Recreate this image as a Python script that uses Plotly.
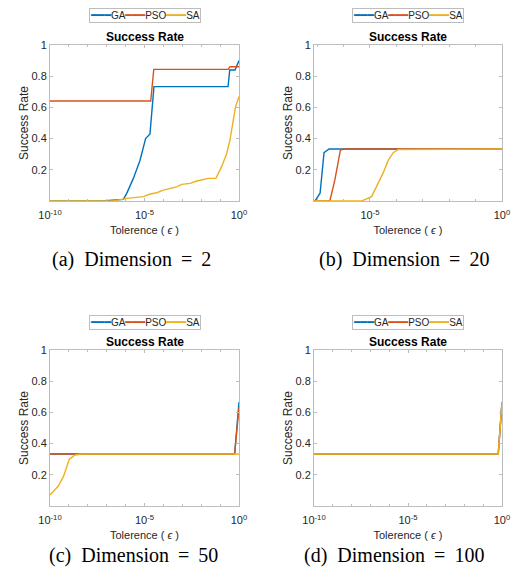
import numpy as np
import plotly.graph_objects as go

# ---------------- data (tolerance exponents log10(eps), success rate) ----------------
methods = ["GA", "PSO", "SA"]
colors = {"GA": "#0072BD", "PSO": "#D95319", "SA": "#EDB120"}
captions = ["(a)", "(b)", "(c)", "(d)"]
dimensions = ["2", "20", "50", "100"]
x_tick_exps = [-10, -5, 0]
x_tick_labels = ["10<sup>-10</sup>", "10<sup>-5</sup>", "10<sup>0</sup>"]
y_tick_vals = [0.2, 0.4, 0.6, 0.8, 1.0]
y_tick_labels = ["0.2", "0.4", "0.6", "0.8", "1"]

# (a) Dimension = 2
a_ga_exp = [-10, -7.27, -6.12, -5.94, -5.59, -5.24, -4.94, -4.71, -4.50, -0.58, -0.49, -0.21, 0]
a_ga_val = [0, 0, 0.01, 0.049, 0.145, 0.26, 0.40, 0.43, 0.733, 0.733, 0.84, 0.84, 0.90]
a_pso_exp = [-10, -4.67, -4.51, -0.57, -0.48, 0]
a_pso_val = [0.641, 0.641, 0.844, 0.844, 0.861, 0.861]
a_sa_exp = [-10, -6.66, -5.94, -5.59, -5.06, -4.70, -4.35, -4.0, -3.65, -3.3, -3.03, -2.59,
            -2.24, -1.89, -1.62, -1.22, -0.92, -0.65, -0.48, -0.30, -0.19, 0]
a_sa_val = [0, 0, 0.017, 0.023, 0.028, 0.045, 0.053, 0.07, 0.08, 0.09, 0.107, 0.113,
            0.128, 0.139, 0.145, 0.145, 0.22, 0.305, 0.39, 0.52, 0.60, 0.67]

# (b) Dimension = 20
b_ga_exp = [-7.12, -7.08, -6.89, -6.74, -6.55, 0]
b_ga_val = [0, 0, 0.05, 0.31, 0.333, 0.333]
b_pso_exp = [-7.12, -6.52, -6.33, -6.20, -6.12, -5.96, 0]
b_pso_val = [0, 0, 0.135, 0.26, 0.327, 0.333, 0.333]
b_sa_exp = [-7.12, -5.31, -4.94, -4.75, -4.50, -4.31, -4.12, -3.93, 0]
b_sa_val = [0, 0, 0.028, 0.092, 0.18, 0.26, 0.31, 0.33, 0.333]

# (c) Dimension = 50
c_ga_exp = [-10, -0.23, 0]
c_ga_val = [0.333, 0.333, 0.667]
c_pso_exp = [-10, -0.23, 0]
c_pso_val = [0.333, 0.333, 0.632]
c_sa_exp = [-10, -9.56, -9.29, -8.98, -8.67, -8.32, 0]
c_sa_val = [0.07, 0.128, 0.188, 0.30, 0.327, 0.333, 0.333]

# (d) Dimension = 100
d_ga_exp = [-10, -0.20, 0]
d_ga_val = [0.333, 0.333, 0.667]
d_pso_exp = [-10, -0.20, 0]
d_pso_val = [0.333, 0.333, 0.667]
d_sa_exp = [-10, -0.20, 0]
d_sa_val = [0.333, 0.333, 0.667]

panels = [
    {"GA": (a_ga_exp, a_ga_val), "PSO": (a_pso_exp, a_pso_val), "SA": (a_sa_exp, a_sa_val), "xrange": [-10, 0]},
    {"GA": (b_ga_exp, b_ga_val), "PSO": (b_pso_exp, b_pso_val), "SA": (b_sa_exp, b_sa_val), "xrange": [-7.12, 0]},
    {"GA": (c_ga_exp, c_ga_val), "PSO": (c_pso_exp, c_pso_val), "SA": (c_sa_exp, c_sa_val), "xrange": [-10, 0]},
    {"GA": (d_ga_exp, d_ga_val), "PSO": (d_pso_exp, d_pso_val), "SA": (d_sa_exp, d_sa_val), "xrange": [-10, 0]},
]

# ---------------- layout geometry (pixels) ----------------
W, H = 520, 575
col_px = [(50, 239), (314, 502)]
row_px = [(45, 201), (350, 506)]
legend_y_px = [15.5, 322]
title_y_px = [37, 342]
caption_px = [(50, 259), (317, 259), (47, 555), (302, 555)]  # left edge, center y

AXIS_GRAY = "#bdbdbd"
TEXT_DARK = "#262626"
SANS = "Liberation Sans, Arial, sans-serif"
SERIF = "Liberation Serif, Times New Roman, serif"
NB, THIN = "&nbsp;", "\u2009"

fig = go.Figure()
annotations = []

for i, p in enumerate(panels):
    r, c = divmod(i, 2)
    sfx = "" if i == 0 else str(i + 1)
    xa, ya = "x" + sfx, "y" + sfx
    for m in methods:
        e, v = p[m]
        fig.add_trace(go.Scatter(
            x=10.0 ** np.array(e, dtype=float), y=v, mode="lines", name=m,
            line=dict(color=colors[m], width=1.4), xaxis=xa, yaxis=ya,
            showlegend=False, hoverinfo="x+y+name"))

    lo, hi = p["xrange"]
    tv = [10.0 ** k for k in x_tick_exps if lo - 1e-9 <= k <= hi]
    tt = [lab for k, lab in zip(x_tick_exps, x_tick_labels) if lo - 1e-9 <= k <= hi]
    minor_vals = [10.0 ** k for k in range(int(np.ceil(lo)), 1)]
    x0, x1 = col_px[c]
    top, bot = row_px[r]
    fig.layout["xaxis" + sfx] = dict(
        type="log", range=[lo, hi], domain=[x0 / W, x1 / W], anchor=ya,
        automargin=False,
        showline=True, linecolor=AXIS_GRAY, linewidth=1, mirror="allticks",
        ticks="inside", ticklen=3, tickcolor=AXIS_GRAY, tickwidth=1,
        tickvals=tv, ticktext=tt, showgrid=False, zeroline=False,
        ticklabelstandoff=4,
        minor=dict(tickvals=minor_vals, ticks="inside", ticklen=2, tickcolor=AXIS_GRAY),
        tickfont=dict(size=11, color=TEXT_DARK, family=SANS),
        title=dict(text="Tolerence ( <i>ϵ</i> )", font=dict(size=11, color=TEXT_DARK, family=SANS), standoff=6),
        fixedrange=True)
    fig.layout["yaxis" + sfx] = dict(
        range=[0, 1], domain=[1 - bot / H, 1 - top / H], anchor=xa,
        automargin=False,
        showline=True, linecolor=AXIS_GRAY, linewidth=1, mirror="allticks",
        ticks="inside", ticklen=3, tickcolor=AXIS_GRAY, tickwidth=1,
        tickvals=y_tick_vals, ticktext=y_tick_labels, showgrid=False, zeroline=False,
        tickfont=dict(size=11, color=TEXT_DARK, family=SANS),
        title=dict(text="Success Rate", font=dict(size=12, color=TEXT_DARK, family=SANS), standoff=0),
        fixedrange=True)

    xc = (x0 + x1) / 2 / W
    # panel title
    annotations.append(dict(text="<b>Success Rate</b>", x=xc, y=1 - title_y_px[r] / H,
                            xref="paper", yref="paper", showarrow=False,
                            xanchor="center", yanchor="middle",
                            font=dict(size=12, color="#000000", family=SANS)))
    # legend box (line samples + names)
    leg = "".join(
        f'<span style="font-family:DejaVu Sans;font-size:11px;color:{colors[m]}">━━━</span>{m}'
        for m in methods)
    annotations.append(dict(text=leg, x=xc, y=1 - legend_y_px[r] / H,
                            xref="paper", yref="paper", showarrow=False,
                            xanchor="center", yanchor="middle",
                            bordercolor=AXIS_GRAY, borderwidth=1, borderpad=0,
                            bgcolor="white",
                            font=dict(size=10, color=TEXT_DARK, family=SANS)))
    # caption
    cx, cy = caption_px[i]
    cap = f"{captions[i]}{NB}{NB}Dimension{NB}{THIN}={NB}{THIN}{dimensions[i]}"
    annotations.append(dict(text=cap, x=cx / W, y=1 - cy / H,
                            xref="paper", yref="paper", showarrow=False,
                            xanchor="left", yanchor="middle",
                            font=dict(size=20, color="#000000", family=SERIF)))

fig.update_layout(
    template="none",
    width=W, height=H, margin=dict(l=0, r=0, t=0, b=0, autoexpand=False),
    paper_bgcolor="white", plot_bgcolor="white",
    showlegend=False, annotations=annotations,
    font=dict(family=SANS, color=TEXT_DARK))

fig.write_html("out.html", config={"displayModeBar": False},
               post_script="document.body.style.margin='0px';document.body.style.padding='0px';")
